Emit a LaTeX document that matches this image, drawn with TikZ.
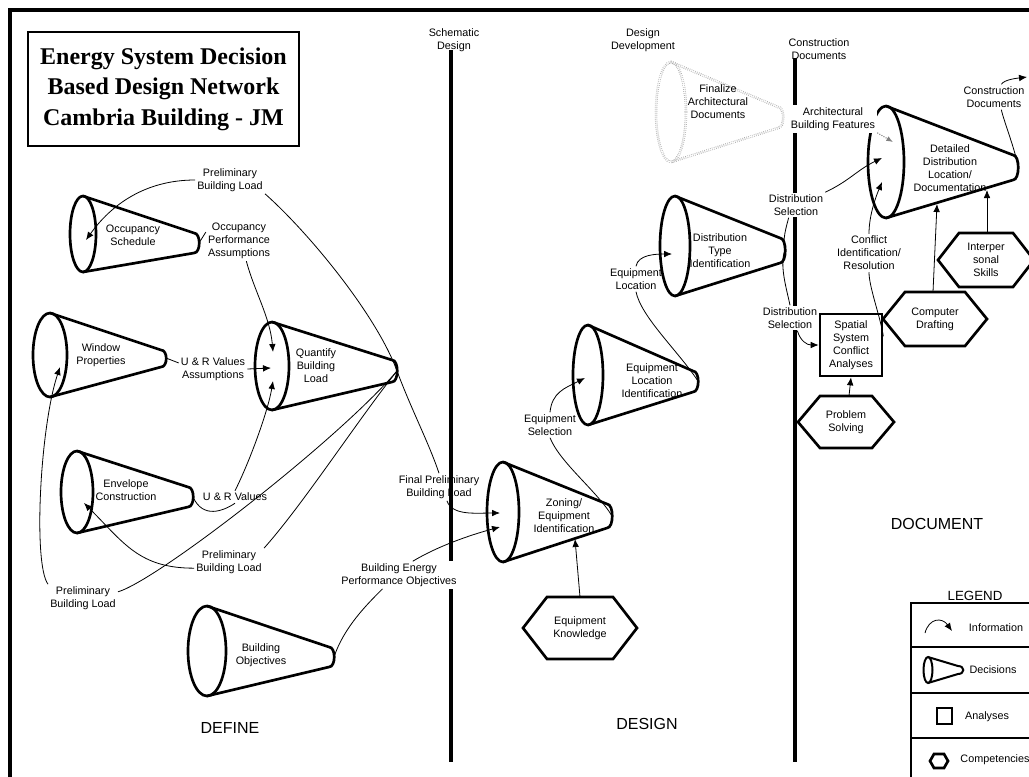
\documentclass[tikz,border=0pt]{standalone}
\usepackage{fontspec}
\setmainfont{Liberation Sans}
\newfontfamily\titlefont{Liberation Serif}
\usetikzlibrary{arrows.meta}

% decision cone: style, ellipse centre, radii, tip point, tip half height
\newcommand{\decisioncone}[8]{%
  \draw[#1] (#2,{#3-#5}) -- (#6,{#7-#8}) .. controls ({#6+7},{#7-#8}) and ({#6+7},{#7+#8}) .. (#6,{#7+#8}) -- (#2,{#3+#5});
  \draw[#1] (#2,#3) ellipse [x radius=#4, y radius=#5];}
% competency hexagon: style, centre, half width, half height, half top edge
\newcommand{\competency}[6]{%
  \draw[#1] ({#2-#4},#3) -- ({#2-#6},{#3-#5}) -- ({#2+#6},{#3-#5}) -- ({#2+#4},#3) -- ({#2+#6},{#3+#5}) -- ({#2-#6},{#3+#5}) -- cycle;}

\begin{document}
\begin{tikzpicture}[x=0.75pt, y=-0.75pt,
  lbl/.style={font=\fontsize{8.1}{9.75}\selectfont, align=center, inner sep=1.5pt},
  wlbl/.style={lbl, fill=white},
  stage/.style={font=\fontsize{12}{14}\selectfont},
  cone/.style={line width=2pt},
  ghost/.style={draw=gray!80, densely dotted, line width=0.5pt, double=white, double distance=0.9pt},
  hexline/.style={line width=2pt, line join=miter},
  frame/.style={line width=2.4pt},
  phase/.style={line width=2.4pt},
  info/.style={line width=0.6pt},
  arr/.style={info, -{Latex[length=6pt,width=5pt]}},
  dotarr/.style={gray, densely dotted, line width=0.8pt, -{Latex[length=5pt,width=4pt]}}]

  \path[use as bounding box] (0,0) rectangle (1029,776);
  \clip (0,0) rectangle (1029,776);

  % Frame and title
  \draw[frame] (10,790) -- (10,10) -- (1040,10);
  \node[draw, line width=1.8pt, minimum width=203pt, minimum height=85.5pt,
        align=center, font=\titlefont\bfseries\fontsize{18}{23}\selectfont] (title) at (163.5,89)
        {Energy System Decision\\Based Design Network\\Cambria Building - JM};

  % Phase labels and lines
  \node[lbl] (sd) at (454,40) {Schematic\\Design};
  \node[lbl] (dd) at (643,40) {Design\\Development};
  \node[lbl] (cd) at (819,49) {Construction\\Documents};
  \draw[phase] (451,50) -- (451,762);
  \draw[phase] (795,58) -- (795,762);
  \node[stage] (define) at (230,728) {DEFINE};
  \node[stage] (design) at (647,724) {DESIGN};
  \node[stage] (document) at (937,524) {DOCUMENT};

  % Decisions (cones)
  \decisioncone{cone}{83}{234}{13}{38}{194}{243}{10}
  \decisioncone{cone}{50}{355}{17}{42}{161}{358.5}{8.5}
  \decisioncone{cone}{272}{366}{17}{44}{392}{371}{11}
  \decisioncone{cone}{77}{492}{16}{41}{188}{497}{10}
  \decisioncone{cone}{207}{651}{19}{45}{329}{657}{10}
  \decisioncone{cone}{503}{512}{16}{50}{607}{516}{12}
  \decisioncone{cone}{588}{375}{15}{50}{693}{381.5}{10.5}
  \decisioncone{cone}{675}{246}{15}{50}{780}{250.5}{12.5}
  \decisioncone{ghost}{671}{112}{15}{50}{778}{117.5}{10.5}
  \decisioncone{cone}{886}{162}{18}{56}{1013}{167.5}{12.5}
  \node[lbl] (occ) at (133,235) {Occupancy\\Schedule};
  \node[lbl] (win) at (101,355) {Window\\Properties};
  \node[lbl] (qbl) at (316,366) {Quantify\\Building\\Load};
  \node[lbl] (env) at (126,490) {Envelope\\Construction};
  \node[lbl] (obj) at (261,655) {Building\\Objectives};
  \node[lbl] (zon) at (564,516) {Zoning/\\Equipment\\Identification};
  \node[lbl] (loc) at (652,381) {Equipment\\Location\\Identification};
  \node[lbl] (dty) at (720,251) {Distribution\\Type\\Identification};
  \node[lbl] (fin) at (718,102) {Finalize\\Architectural\\Documents};
  \node[lbl] (ddl) at (950,168) {Detailed\\Distribution\\Location/\\Documentation};

  % Competencies (hexagons)
  \competency{hexline}{580}{628}{57}{31}{33}
  \competency{hexline}{846}{422}{48}{26}{26}
  \competency{hexline}{935}{319}{52}{27}{30}
  \competency{hexline}{986}{260}{48}{27}{27}
  \node[lbl] (eqk) at (580,628) {Equipment\\Knowledge};
  \node[lbl] (pbs) at (846,422) {Problem\\Solving};
  \node[lbl] (cdr) at (935,319) {Computer\\Drafting};
  \node[lbl] (ips) at (986,260) {Interper\\sonal\\Skills};

  % Analyses (square)
  \node[lbl, draw, line width=2pt, minimum size=46.5pt, inner sep=0pt] (ssa) at (851,345)
        {Spatial\\System\\Conflict\\Analyses};

  % Cone tips, hexagon tops and arrow targets
  \coordinate (occ-tip) at (199,243);
  \coordinate (win-tip) at (166,358);
  \coordinate (qbl-tip) at (397,371);
  \coordinate (env-tip) at (193,497);
  \coordinate (obj-tip) at (334,657);
  \coordinate (zon-tip) at (612,516);
  \coordinate (loc-tip) at (698,381);
  \coordinate (dty-tip) at (785,250);
  \coordinate (ddl-tip) at (1018,167);
  \coordinate (eqk-top) at (580,597);
  \coordinate (pbs-top) at (849,396);
  \coordinate (cdr-top) at (933,292);
  \coordinate (ips-top) at (987,233);
  \coordinate (occ-in) at (86,240);
  \coordinate (qbl-in1) at (273,352);
  \coordinate (qbl-in2) at (271,368);
  \coordinate (qbl-in3) at (273,381);
  \coordinate (win-in) at (60,367);
  \coordinate (env-in) at (84,503);
  \coordinate (zon-in1) at (500,513);
  \coordinate (zon-in2) at (500,527);
  \coordinate (zon-bot) at (575,539);
  \coordinate (loc-in) at (585,378);
  \coordinate (dty-in) at (672,254);
  \coordinate (ddl-in1) at (893,142);
  \coordinate (ddl-in2) at (882,158);
  \coordinate (ddl-in3) at (882,182);
  \coordinate (ddl-bot1) at (937,204);
  \coordinate (ddl-bot2) at (987,190);
  \coordinate (cdoc-end) at (1027,77);

  % Information labels
  \node[lbl] (pbl1) at (230,180) {Preliminary\\Building Load};
  \node[lbl] (opa) at (239,241) {Occupancy\\Performance\\Assumptions};
  \node[lbl] (ura) at (213,369) {U \& R Values\\Assumptions};
  \node[lbl] (urv) at (235,497) {U \& R Values};
  \node[lbl] (pbl2) at (229,562) {Preliminary\\Building Load};
  \node[lbl] (pbl3) at (83,598) {Preliminary\\Building Load};
  \node[lbl] (fpb) at (439,487) {Final Preliminary\\Building Load};
  \node[wlbl] (bepo) at (399,575) {Building Energy\\Performance Objectives};
  \node[lbl] (eqs) at (550,425) {Equipment\\Selection};
  \node[lbl] (eloc) at (636,279) {Equipment\\Location};
  \node[wlbl] (dsel1) at (796,205) {Distribution\\Selection};
  \node[wlbl] (dsel2) at (790,318) {Distribution\\Selection};
  \node[wlbl] (abf) at (833,119) {Architectural\\Building Features};
  \node[lbl] (cir) at (869,253) {Conflict\\Identification/\\Resolution};
  \node[lbl] (cdoc) at (994,97) {Construction\\Documents};

  % Information flow: define
  \draw[info] (pbl1.south east) .. controls +(45,40) and +(-20,-55) .. (qbl-tip);
  \draw[arr] (pbl1.west) .. controls +(-50,0) and +(25,-35) .. (occ-in);
  \draw[info] (occ-tip) -- (opa.165);
  \draw[arr] (opa.-70) .. controls +(8,30) and +(-3,-35) .. (qbl-in1);
  \draw[info] (win-tip) -- (ura.170);
  \draw[arr] (ura.east) -- (qbl-in2);
  \draw[info] (env-tip) .. controls +(10,22) and +(-12,8) .. (urv.south);
  \draw[arr] (urv.north) .. controls +(15,-30) and +(-5,30) .. (qbl-in3);
  \draw[info] (qbl-tip) .. controls +(-40,50) and +(40,-45) .. (pbl2.north east);
  \draw[arr] (pbl2.190) .. controls +(-55,0) and +(40,40) .. (env-in);
  \draw[info] (qbl-tip) .. controls +(-60,70) and +(40,-12) .. (pbl3.10);
  \draw[arr] (pbl3.north west) .. controls +(-15,-20) and +(-20,60) .. (win-in);
  \draw[info] (qbl-tip) .. controls +(15,40) and +(-10,-30) .. (fpb.north);
  \draw[info] (obj-tip) .. controls +(10,-30) and +(-15,15) .. (bepo.220);

  % Information flow: design
  \draw[arr] (fpb.-60) .. controls +(5,15) and +(-25,0) .. (zon-in1);
  \draw[arr] (bepo.45) .. controls +(25,-15) and +(-30,8) .. (zon-in2);
  \draw[arr] (eqk-top) -- (zon-bot);
  \draw[info] (zon-tip) .. controls +(-15,-25) and +(10,25) .. (eqs.south);
  \draw[arr] (eqs.north) .. controls +(2,-20) and +(-20,10) .. (loc-in);
  \draw[info] (loc-tip) .. controls +(-20,-30) and +(5,25) .. (eloc.south);
  \draw[arr] (eloc.north) .. controls +(2,-12) and +(-15,0) .. (dty-in);

  % Information flow: document
  \draw[info] (dty-tip) .. controls +(-3,-10) and +(-2,8) .. (dsel1.240);
  \draw[arr] (dsel1.north east) .. controls +(25,-12) and +(-25,12) .. (ddl-in2);
  \draw[info] (dty-tip) .. controls +(-6,15) and +(-3,-15) .. (dsel2.north);
  \draw[arr] (dsel2.-60) .. controls +(3,10) and +(-12,0) .. (ssa.west);
  \draw[dotarr] (abf.south east) -- (ddl-in1);
  \draw[info] (ssa.15) .. controls +(-3,-20) and +(0,15) .. (cir.south);
  \draw[arr] (cir.north) .. controls +(0,-20) and +(-5,12) .. (ddl-in3);
  \draw[arr] (cdr-top) -- (ddl-bot1);
  \draw[arr] (ips-top) -- (ddl-bot2);
  \draw[arr] (pbs-top) -- (ssa.south);
  \draw[info] (ddl-tip) .. controls +(-2,-15) and +(2,10) .. (cdoc.-60);
  \draw[arr] (cdoc.60) .. controls +(3,-5) and +(-8,1) .. (cdoc-end);

  % Legend
  \node[font=\fontsize{10}{12}\selectfont] (legend) at (975,596) {LEGEND};
  \draw[line width=2pt] (1040,603) -- (911,603) -- (911,790);
  \foreach \y in {647,693,738}
    \draw[line width=2pt] (911,\y) -- (1040,\y);
  \draw[arr] (925,633) .. controls (929,618) and (942,617) .. (952,631);
  \decisioncone{line width=1.5pt}{928}{670}{4.5}{13}{958}{670}{4}
  \draw[line width=2pt] (937,708) rectangle (952,724);
  \competency{hexline}{939}{761}{9}{7}{5}
  \node[lbl] (l-info) at (996,628) {Information};
  \node[lbl] (l-dec) at (993,670) {Decisions};
  \node[lbl] (l-ana) at (987,717) {Analyses};
  \node[lbl] (l-comp) at (995,760) {Competencies};

\end{tikzpicture}
\end{document}
